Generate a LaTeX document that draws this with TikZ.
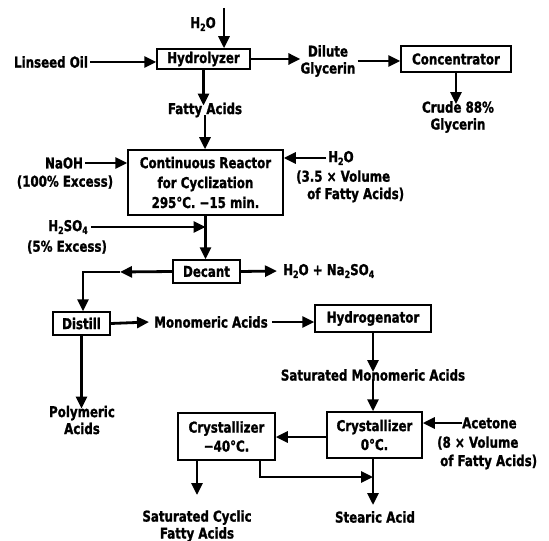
\documentclass[tikz,border=0pt]{standalone}
\usepackage{fontspec}
\setmainfont{DejaVu Sans Condensed}[FakeStretch=0.88, BoldFeatures={FakeBold=1.2}]
\usetikzlibrary{arrows.meta}
\newcommand{\mysub}[1]{\raisebox{-0.35ex}{\fontsize{10}{10}\selectfont #1}}
\begin{document}
\begin{tikzpicture}[x=1bp,y=-1bp,
  every node/.style={font=\fontsize{15}{17}\selectfont\bfseries, inner sep=0pt},
  box/.style={draw, line width=1.5bp, align=center},
  lbl/.style={align=center},
  arr/.style={line width=2.8bp, -{Triangle[length=12bp,width=11bp]}},
  ln/.style={line width=2.8bp}]
\useasboundingbox (0,0) rectangle (549,541);
% boxes
\node[box, minimum width=93bp, minimum height=20bp] (hyd) at (203.5,59) {Hydrolyzer};
\node[box, minimum width=110bp, minimum height=26bp] (conc) at (456,59) {Concentrator};
\node[box, minimum width=155bp, minimum height=65bp, font=\fontsize{15}{20}\selectfont\bfseries] (reac) at (205.5,182.5) {Continuous Reactor\\for Cyclization\\295°C. −15 min.};
\node[box, minimum width=67bp, minimum height=23bp] (dec) at (206.5,271.5) {Decant};
\node[box, minimum width=57bp, minimum height=23bp] (dist) at (81.5,323.5) {Distill};
\node[box, minimum width=116bp, minimum height=27bp] (hydg) at (373,318.5) {Hydrogenator};
\node[box, minimum width=95bp, minimum height=46bp, font=\fontsize{15}{19}\selectfont\bfseries] (crR) at (374.5,435) {Crystallizer\\0°C.};
\node[box, minimum width=97bp, minimum height=47bp, font=\fontsize{15}{19}\selectfont\bfseries] (crL) at (226.5,436.5) {Crystallizer\\−40°C.};
% labels
\node[lbl] (h2otop) at (203,24) {H\mysub{2}O};
\coordinate (ctop) at (224,8);
\node[lbl] (lin) at (51,62) {Linseed Oil};
\node[lbl] (dil) at (328,61) {Dilute\\Glycerin};
\node[lbl] (crude) at (458,117) {Crude 88\%\\Glycerin};
\node[lbl] (fa) at (205,110) {Fatty Acids};
\node[lbl] (naoh) at (64,163) {NaOH};
\node[lbl] (naohx) at (65,182) {(100\% Excess)};
\node[lbl, anchor=west] (h2or) at (328,158) {H\mysub{2}O};
\node[lbl, anchor=west] (h2orb) at (296,177) {(3.5 × Volume};
\node[lbl, anchor=west] (h2orc) at (307,195) {of Fatty Acids)};
\node[lbl] (h2so4) at (68,227) {H\mysub{2}SO\mysub{4}};
\node[lbl] (h2so4x) at (67,247) {(5\% Excess)};
\node[lbl, anchor=west] (na) at (283,271) {H\mysub{2}O + Na\mysub{2}SO\mysub{4}};
\node[lbl] (mono) at (211,322) {Monomeric Acids};
\node[lbl] (poly) at (82,420) {Polymeric\\Acids};
\node[lbl] (smono) at (373,375) {Saturated Monomeric Acids};
\node[lbl, anchor=west] (acet) at (462,423) {Acetone};
\node[lbl, anchor=west] (acetb) at (437,443) {(8 × Volume};
\node[lbl, anchor=west] (acetc) at (440,462) {of Fatty Acids)};
\node[lbl] (scfa) at (197,526) {Saturated Cyclic\\Fatty Acids};
\node[lbl] (stear) at (375,517) {Stearic Acid};
% connectors
\draw[arr] (ctop) -- (ctop |- hyd.north);
\draw[arr] (lin.east) ++(2,0) -- (lin.east -| hyd.west);
\draw[arr] (hyd.east) -- ++(45,0) coordinate (dg) -- (dil.west |- dg) ;
\draw[arr] (dil.east) ++(2,0) -- (dil.east -| conc.west);
\draw[arr] (conc.south) -- ([yshift=-3bp]conc.south |- crude.north);
\draw[arr] (hyd.south) -- ([yshift=-3bp]hyd.south |- fa.north);
\draw[arr] ([yshift=2bp]fa.south) -- (fa.south |- reac.north);
\draw[arr] (naoh.east) ++(2,0) -- (naoh.east -| reac.west);
\draw[arr] (h2or.west) ++(-2,0) -- (h2or.west -| reac.east);
\coordinate (jn) at (reac.south |- h2so4.east);
\draw[arr] (h2so4.east) ++(3,0) -- (jn);
\draw[arr] (reac.south) -- (reac.south |- dec.north);
\draw[arr] (dec.east) -- ([xshift=-6bp]na.west);
\coordinate (dl) at (120,272);
\coordinate (dc) at (83,272);
\draw[arr] (dec.west) -- (dl);
\draw[arr] (dl) -- (dc) -- (dc |- dist.north);
\draw[arr] (dist.east) -- ([xshift=-5bp]mono.west);
\draw[arr] ([xshift=4bp]mono.east) -- (mono.east -| hydg.west);
\draw[arr] (dist.south) -- ([yshift=-3bp]dist.south |- poly.north);
\draw[arr] (hydg.south) -- ([yshift=-3bp]hydg.south |- smono.north);
\draw[arr] ([yshift=2bp]hydg.south |- smono.south) -- (hydg.south |- crR.north);
\draw[arr] ([yshift=-2bp]crR.west) -- ([yshift=-2bp]crR.west -| crL.east);
\draw[arr] (acet.west) -- (acet.west -| crR.east);
\coordinate (lb) at (197,460);
\draw[arr] (lb) -- (197,495);
\coordinate (lb2) at (260,460);
\coordinate (rb) at (373,458);
\draw[arr] (lb2) -- (260,477) -- (rb |- 0,477);
\draw[arr] (rb) -- (373,505);
\end{tikzpicture}
\end{document}
